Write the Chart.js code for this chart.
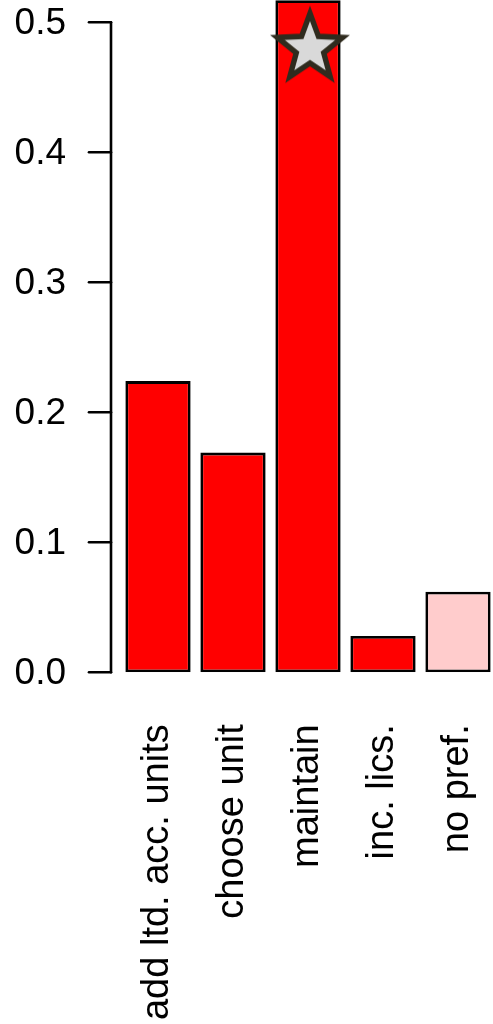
<!DOCTYPE html>
<html>
<head>
<meta charset="utf-8">
<script src="https://cdn.jsdelivr.net/npm/chart.js@4/dist/chart.umd.min.js"></script>
<style>
html,body{margin:0;padding:0;background:#fff;overflow:hidden;}
#wrap{width:493px;height:1024px;overflow:hidden;position:relative;}
#c{display:block;}
</style>
</head>
<body>
<div id="wrap"><canvas id="c" width="500" height="1024" style="width:500px;height:1024px"></canvas></div>
<script>
// ---- data ----
const categories = ['add ltd. acc. units', 'choose unit', 'maintain', 'inc. lics.', 'no pref.'];
const shareValues = [0.224, 0.169, 0.517, 0.028, 0.062];
const barColors = ['#ff0000', '#ff0000', '#ff0000', '#ff0000', '#ffcccc'];
const starValues = [null, null, 0.48, null, null];
const yTickValues = [0.0, 0.1, 0.2, 0.3, 0.4, 0.5];
const yTickLabels = ['0.0', '0.1', '0.2', '0.3', '0.4', '0.5'];

// ---- star point style ----
function makeStar(R, lw, sx, dx) {
  const size = 110;
  const cv = document.createElement('canvas');
  cv.width = size; cv.height = size;
  const g = cv.getContext('2d');
  g.translate(size / 2 + dx, size / 2);
  g.scale(sx, 1);
  const r = R * 0.42;
  g.beginPath();
  for (let i = 0; i < 10; i++) {
    const rad = i % 2 === 0 ? R : r;
    const a = -Math.PI / 2 + i * Math.PI / 5;
    const px = rad * Math.cos(a), py = rad * Math.sin(a);
    if (i === 0) g.moveTo(px, py); else g.lineTo(px, py);
  }
  g.closePath();
  g.fillStyle = '#d9d9d9';
  g.fill();
  g.lineWidth = lw;
  g.lineJoin = 'miter';
  g.miterLimit = 10;
  g.strokeStyle = '#2f2b1e';
  g.stroke();
  return cv;
}
const starImg = makeStar(35, 5.5, 0.98, 2);

// ---- y axis drawn R-style from the chart's own y scale ----
const rAxis = {
  id: 'rAxis',
  afterDraw(chart) {
    const y = chart.scales.y;
    const ctx = chart.ctx;
    const axX = 111, tickX = 89, labX = 66;
    ctx.save();
    ctx.strokeStyle = '#000';
    ctx.lineWidth = 2.6;
    ctx.lineCap = 'round';
    ctx.beginPath();
    ctx.moveTo(axX, y.getPixelForValue(yTickValues[0]));
    ctx.lineTo(axX, y.getPixelForValue(yTickValues[yTickValues.length - 1]));
    ctx.stroke();
    ctx.font = '37px "Liberation Sans", Arial, sans-serif';
    ctx.fillStyle = '#000';
    ctx.textAlign = 'right';
    ctx.textBaseline = 'middle';
    yTickValues.forEach((v, i) => {
      const py = y.getPixelForValue(v);
      ctx.beginPath();
      ctx.moveTo(tickX, py);
      ctx.lineTo(axX, py);
      ctx.stroke();
      ctx.fillText(yTickLabels[i], labX, py + 1);
    });
    ctx.restore();
  }
};

new Chart(document.getElementById('c'), {
  data: {
    labels: categories,
    datasets: [
      {
        type: 'line',
        data: starValues,
        showLine: false,
        pointStyle: starImg,
        pointRadius: 45,
        clip: false,
        order: 0
      },
      {
        type: 'bar',
        data: shareValues,
        backgroundColor: barColors,
        borderColor: '#000',
        borderWidth: 2.8,
        borderSkipped: false,
        categoryPercentage: 1.0,
        barPercentage: 0.87,
        order: 1
      }
    ]
  },
  options: {
    responsive: false,
    animation: false,
    devicePixelRatio: 1,
    layout: { autoPadding: false, padding: { left: 120.5, right: 4.5, top: 0, bottom: 0 } },
    plugins: { legend: { display: false }, tooltip: { enabled: false } },
    scales: {
      x: {
        type: 'category',
        offset: true,
        grid: { display: false, drawTicks: false },
        border: { display: false },
        ticks: {
          autoSkip: false,
          maxRotation: 90,
          minRotation: 90,
          padding: 52,
          color: '#000',
          font: { family: '"Liberation Sans", Arial, sans-serif', size: 38 }
        },
        afterFit(scale) {
          scale.height = 1024 - 672.3;
          scale.paddingLeft = 0;
          scale.paddingRight = 0;
        }
      },
      y: {
        display: false,
        min: 0,
        max: 672.3 / 1300
      }
    }
  },
  plugins: [rAxis]
});
</script>
</body>
</html>
